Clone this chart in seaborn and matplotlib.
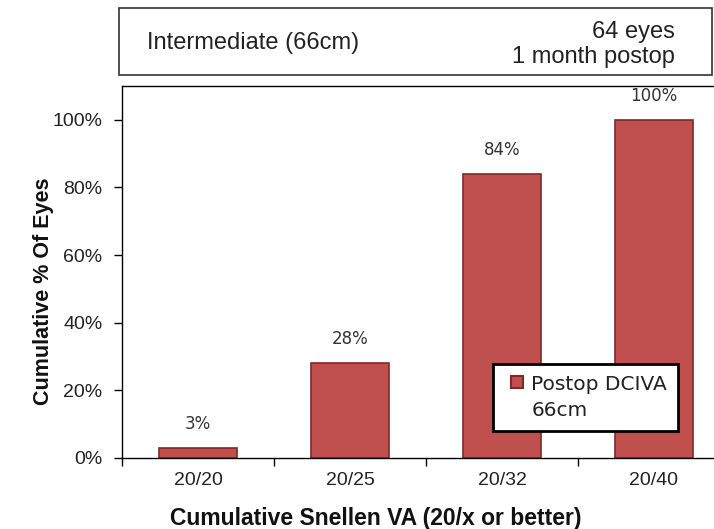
import seaborn as sns
import pandas as pd
import numpy as np
import matplotlib.pyplot as plt
from matplotlib.patches import Rectangle
from matplotlib.lines import Line2D
from matplotlib.ticker import FixedLocator, PercentFormatter

categories = ["20/20", "20/25", "20/32", "20/40"]
cum_pct = [3, 28, 84, 100]
bar_labels = ["3%", "28%", "84%", "100%"]
series_name = "Postop DCIVA\n66cm"

bar_color = "#C0504D"
bar_edge = "#7F2A28"

df = pd.DataFrame({"va": categories, "pct": cum_pct})

sns.set_style("white")
plt.rcParams["font.family"] = ["Liberation Sans", "DejaVu Sans"]

W, H = 714, 529
fig = plt.figure(figsize=(W / 100, H / 100), dpi=100)
# plot area: left edge at 122px, runs past the right edge of the image like the original
ax = fig.add_axes([122 / W, (H - 458) / H, 608 / W, (458 - 86) / H])

sns.barplot(data=df, x="va", y="pct", color=bar_color, width=0.51,
            edgecolor=bar_edge, linewidth=1.2, saturation=1, ax=ax)

ax.set_xlim(-0.5, 3.5)
ax.set_ylim(0, 110)
ax.yaxis.set_major_locator(FixedLocator([0, 20, 40, 60, 80, 100]))
ax.yaxis.set_major_formatter(PercentFormatter(decimals=0))
ax.xaxis.set_minor_locator(FixedLocator(np.arange(-0.5, 4, 1)))
ax.tick_params(axis="x", which="major", length=0, pad=10, labelsize=14)
ax.tick_params(axis="x", which="minor", length=6, width=1, color="black",
               direction="out", bottom=True)
ax.tick_params(axis="y", length=6, width=1, color="black", direction="out",
               pad=8, labelsize=14, left=True)
ax.tick_params(axis="both", which="both", labelcolor="#222222")
for s in ax.spines.values():
    s.set_visible(True)
    s.set_color("black")
    s.set_linewidth(1)
ax.set_xlabel("")
ax.set_ylabel("")

for i, (v, lab) in enumerate(zip(cum_pct, bar_labels)):
    ax.annotate(lab, (i, v), xytext=(0, 11), textcoords="offset points",
                ha="center", va="bottom", fontsize=12, family="DejaVu Sans",
                color="#333333")

fig.text(376 / W, 1 - 518 / H, "Cumulative Snellen VA (20/x or better)",
         ha="center", va="center", fontsize=16.5, fontweight="bold", color="#111111")
fig.text(44 / W, 1 - 291 / H, "Cumulative % Of Eyes", rotation=90,
         ha="center", va="center", fontsize=15.5, fontweight="bold", color="#111111")

handle = Line2D([], [], ls="", marker="s", markersize=9, markerfacecolor=bar_color,
                markeredgecolor=bar_edge, markeredgewidth=1.5)
leg = ax.legend([handle], [series_name], loc="upper left",
                bbox_to_anchor=(493 / W, 1 - 364 / H),
                bbox_transform=fig.transFigure, fancybox=False, framealpha=1,
                edgecolor="black", handlelength=1.3, handleheight=0.8,
                handletextpad=0.05, borderpad=0.55, borderaxespad=0,
                prop={"family": "DejaVu Sans", "size": 14.5})
leg.get_frame().set_linewidth(2)
for t in leg.get_texts():
    t.set_color("#222222")
    t.set_linespacing(1.45)
# put the marker next to the first line of the label
leg._legend_handle_box.get_children()[0].get_children()[0].align = "top"

# header box above the chart
fig.patches.append(Rectangle((119 / W, 1 - 75 / H), (712 - 119) / W, (75 - 8) / H,
                             transform=fig.transFigure, fill=False,
                             edgecolor="#333333", linewidth=1.2))
fig.text(147 / W, 1 - 43 / H, "Intermediate (66cm)", ha="left", va="center",
         fontsize=17, color="#222222")
fig.text(675 / W, 1 - 32 / H, "64 eyes", ha="right", va="center",
         fontsize=17, color="#222222")
fig.text(675 / W, 1 - 57 / H, "1 month postop", ha="right", va="center",
         fontsize=17, color="#222222")

fig.savefig("out.png", dpi=100)
